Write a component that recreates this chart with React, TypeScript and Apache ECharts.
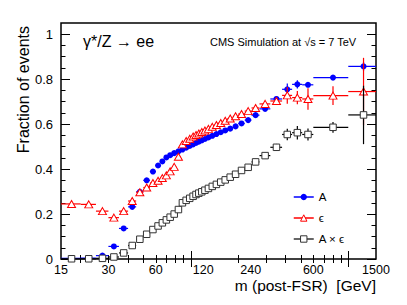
import React, { useEffect, useRef } from "react";
import * as echarts from "echarts";

// bin edges in GeV (post-FSR mass)
const binEdges = [15, 20, 25, 30, 35, 40, 45, 50, 55, 60, 64, 68, 72, 76, 81, 86, 91, 96, 101, 106, 110, 115, 120, 126, 133, 141, 150, 160, 171, 185, 200, 220, 243, 273, 320, 380, 440, 510, 600, 1000, 1500];

const acceptance = [0.003, 0.004, 0.015, 0.056, 0.136, 0.232, 0.299, 0.35, 0.389, 0.416, 0.434, 0.452, 0.462, 0.471, 0.479, 0.487, 0.495, 0.503, 0.51, 0.516, 0.522, 0.528, 0.534, 0.541, 0.548, 0.556, 0.564, 0.572, 0.58, 0.59, 0.603, 0.618, 0.64, 0.668, 0.712, 0.755, 0.777, 0.775, 0.807, 0.857];
const acceptanceErr = [0.002, 0.002, 0.003, 0.004, 0.004, 0.004, 0.004, 0.004, 0.004, 0.004, 0.004, 0.004, 0.004, 0.004, 0.004, 0.004, 0.004, 0.004, 0.004, 0.004, 0.004, 0.004, 0.004, 0.004, 0.004, 0.004, 0.004, 0.004, 0.004, 0.005, 0.005, 0.006, 0.007, 0.008, 0.012, 0.026, 0.018, 0.01, 0.008, 0.02];

const efficiency = [0.245, 0.243, 0.213, 0.184, 0.213, 0.258, 0.297, 0.318, 0.338, 0.348, 0.36, 0.372, 0.39, 0.41, 0.455, 0.51, 0.525, 0.535, 0.545, 0.552, 0.558, 0.565, 0.572, 0.579, 0.588, 0.596, 0.605, 0.615, 0.625, 0.635, 0.645, 0.658, 0.672, 0.69, 0.703, 0.728, 0.718, 0.712, 0.727, 0.745];
const efficiencyErr = [0.004, 0.004, 0.004, 0.004, 0.004, 0.004, 0.004, 0.004, 0.004, 0.004, 0.004, 0.004, 0.004, 0.004, 0.004, 0.004, 0.004, 0.004, 0.004, 0.004, 0.004, 0.004, 0.004, 0.004, 0.004, 0.004, 0.004, 0.004, 0.004, 0.005, 0.005, 0.006, 0.008, 0.01, 0.015, 0.037, 0.03, 0.048, 0.042, 0.15];

const accEff = [0.001, 0.001, 0.003, 0.009, 0.027, 0.06, 0.088, 0.11, 0.131, 0.147, 0.161, 0.174, 0.186, 0.2, 0.22, 0.25, 0.261, 0.27, 0.279, 0.287, 0.293, 0.299, 0.306, 0.314, 0.323, 0.332, 0.342, 0.352, 0.364, 0.377, 0.394, 0.408, 0.432, 0.46, 0.497, 0.554, 0.562, 0.554, 0.586, 0.641];
const accEffErr = [0.001, 0.001, 0.002, 0.003, 0.003, 0.003, 0.003, 0.003, 0.003, 0.003, 0.003, 0.003, 0.003, 0.003, 0.003, 0.003, 0.003, 0.003, 0.003, 0.003, 0.003, 0.003, 0.003, 0.003, 0.003, 0.004, 0.004, 0.004, 0.004, 0.005, 0.006, 0.007, 0.01, 0.012, 0.015, 0.026, 0.03, 0.027, 0.024, 0.13];

const xLabelValues = [15, 30, 60, 120, 240, 600, 1500];
const xMajorTicks = [100, 1000];
const xMinorTicks = [20, 30, 40, 50, 60, 70, 80, 90, 200, 300, 400, 500, 600, 700, 800, 900];
const yLabelValues = [0, 0.2, 0.4, 0.6, 0.8, 1];
const yMinorTicks = [0.05, 0.1, 0.15, 0.25, 0.3, 0.35, 0.45, 0.5, 0.55, 0.65, 0.7, 0.75, 0.85, 0.9, 0.95];

const FONT = "'Liberation Sans', Arial, Helvetica, sans-serif";
const BLUE = "#0000ff";
const RED = "#ff0000";
const BLACK = "#000000";

const lg = (v: number) => Math.log10(v);
const X_MIN = lg(15);
const X_MAX = lg(1500);

function pointData(values: number[]) {
  return values.map((v, i) => [lg((binEdges[i] + binEdges[i + 1]) / 2), v]);
}
function errData(values: number[], errs: number[]) {
  return values.map((v, i) => [lg(binEdges[i]), lg(binEdges[i + 1]), lg((binEdges[i] + binEdges[i + 1]) / 2), v, errs[i]]);
}
function errRender(color: string) {
  return (params: any, api: any) => {
    const y = api.value(3);
    const e = api.value(4);
    const lo = api.coord([api.value(0), y]);
    const hi = api.coord([api.value(1), y]);
    const top = api.coord([api.value(2), y + e]);
    const bot = api.coord([api.value(2), y - e]);
    return {
      type: "group",
      children: [
        { type: "line", shape: { x1: lo[0], y1: lo[1], x2: hi[0], y2: hi[1] }, style: { stroke: color, lineWidth: 1.2 } },
        { type: "line", shape: { x1: top[0], y1: top[1], x2: bot[0], y2: bot[1] }, style: { stroke: color, lineWidth: 1.2 } },
      ],
    };
  };
}

function xAxisDef(position: "top" | "bottom", ticks: number[], len: number, labels: boolean) {
  return {
    type: "value",
    position,
    min: X_MIN,
    max: X_MAX,
    axisLine: { show: false },
    splitLine: { show: false },
    axisTick: { show: true, inside: true, length: len, customValues: ticks.map(lg), lineStyle: { color: "#000", width: 1 } },
    axisLabel: labels
      ? {
          show: true,
          customValues: xLabelValues.map(lg),
          formatter: (v: number) => String(Math.round(Math.pow(10, v))),
          fontFamily: FONT,
          fontSize: 12.5,
          color: "#000",
          margin: 4,
        }
      : { show: false },
  };
}
function yAxisDef(position: "left" | "right", ticks: number[], len: number, labels: boolean) {
  return {
    type: "value",
    position,
    min: 0,
    max: 1.05,
    axisLine: { show: false },
    splitLine: { show: false },
    axisTick: { show: true, inside: true, length: len, customValues: ticks, lineStyle: { color: "#000", width: 1 } },
    axisLabel: labels
      ? { show: true, customValues: yLabelValues, fontFamily: FONT, fontSize: 13, color: "#000", margin: 8 }
      : { show: false },
  };
}

export default function App() {
  const ref = useRef<HTMLDivElement>(null);
  useEffect(() => {
    if (!ref.current) return;
    const chart = echarts.init(ref.current, null, { renderer: "svg" });
    const option: any = {
      animation: false,
      backgroundColor: "#fff",
      grid: { left: 61, right: 31, top: 23, bottom: 46, show: true, borderColor: "#000", borderWidth: 1.5, backgroundColor: "transparent" },
      xAxis: [
        xAxisDef("bottom", xMajorTicks, 8, true),
        xAxisDef("bottom", xMinorTicks, 4, false),
        xAxisDef("top", xMajorTicks, 8, false),
        xAxisDef("top", xMinorTicks, 4, false),
      ],
      yAxis: [
        yAxisDef("left", yLabelValues, 9, true),
        yAxisDef("left", yMinorTicks, 4.5, false),
        yAxisDef("right", yLabelValues, 9, false),
        yAxisDef("right", yMinorTicks, 4.5, false),
      ],
      legend: {
        orient: "vertical",
        left: 288,
        top: 186,
        itemWidth: 20,
        itemHeight: 8,
        itemGap: 9,
        textStyle: { fontFamily: FONT, fontSize: 11.5, color: "#000" },
        data: [
          { name: "A", itemStyle: { color: BLUE, borderWidth: 0 }, lineStyle: { color: BLUE, width: 1.5, opacity: 1 } },
          { name: "ϵ", itemStyle: { color: "#fff", borderColor: RED, borderWidth: 1 }, lineStyle: { color: RED, width: 1.5, opacity: 1 } },
          { name: "A × ϵ", itemStyle: { color: "#fff", borderColor: "#333", borderWidth: 1 }, lineStyle: { color: "#333", width: 1.5, opacity: 1 } },
        ],
      },
      graphic: [
        { type: "text", x: 83, y: 41, style: { text: "γ*/Z → ee", fontFamily: FONT, fontSize: 16, fill: "#000", verticalAlign: "middle", align: "left" } },
        { type: "text", x: 210, y: 42, style: { text: "CMS Simulation at √s = 7 TeV", fontFamily: FONT, fontSize: 11, fill: "#000", verticalAlign: "middle", align: "left" } },
        { type: "text", x: 376, y: 285.5, style: { text: "m (post-FSR)  [GeV]", fontFamily: FONT, fontSize: 15.5, fill: "#000", verticalAlign: "middle", align: "right" } },
        { type: "text", x: 23, y: 26, rotation: Math.PI / 2, style: { text: "Fraction of events", fontFamily: FONT, fontSize: 16, fill: "#000", verticalAlign: "middle", align: "right" } },
      ],
      series: [
        { name: "A err", type: "custom", z: 2, renderItem: errRender(BLUE), data: errData(acceptance, acceptanceErr), encode: { x: [0, 1, 2], y: 3 } },
        { name: "A", type: "line", z: 3, data: pointData(acceptance), symbol: "circle", symbolSize: 6, lineStyle: { opacity: 0, color: BLUE }, itemStyle: { color: BLUE }, clip: false },
        { name: "ϵ err", type: "custom", z: 4, renderItem: errRender(RED), data: errData(efficiency, efficiencyErr), encode: { x: [0, 1, 2], y: 3 } },
        { name: "ϵ", type: "line", z: 5, data: pointData(efficiency), symbol: "triangle", symbolSize: [8, 7], lineStyle: { opacity: 0, color: RED }, itemStyle: { color: "#fff", borderColor: RED, borderWidth: 1 } },
        { name: "A × ϵ err", type: "custom", z: 6, renderItem: errRender(BLACK), data: errData(accEff, accEffErr), encode: { x: [0, 1, 2], y: 3 } },
        { name: "A × ϵ", type: "line", z: 7, data: pointData(accEff), symbol: "rect", symbolSize: 6.5, lineStyle: { opacity: 0, color: BLACK }, itemStyle: { color: "#fff", borderColor: "#333", borderWidth: 1 } },
      ],
    };
    chart.setOption(option);
    return () => chart.dispose();
  }, []);
  return <div ref={ref} style={{ width: 407, height: 305, position: "absolute", left: 0, top: 0 }} />;
}
